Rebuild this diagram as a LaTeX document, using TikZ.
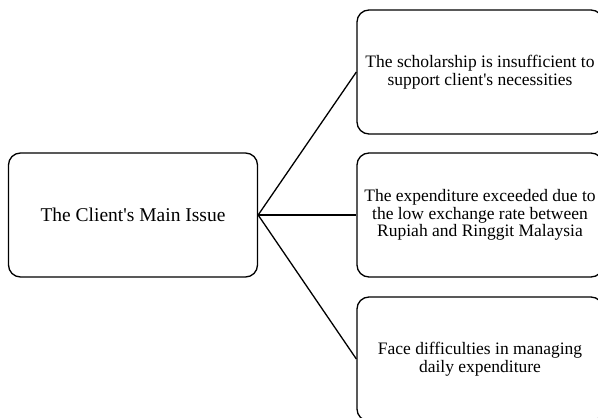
\documentclass[tikz,border=0pt]{standalone}
\usepackage{fontspec}
\setmainfont{Liberation Serif}[Ligatures=TeXOff]

\begin{document}
\begin{tikzpicture}[x=1pt, y=-1pt,
  box/.style={draw, line width=1.3pt, rounded corners=12pt, align=center,
    minimum height=124pt, inner sep=0pt},
  big/.style={font=\fontsize{19.5}{22}\selectfont},
  small/.style={font=\fontsize{17.5}{17.5}\selectfont}]
\useasboundingbox (0,0) rectangle (598,418);
\node[box, big, minimum width=249pt] (main) at (133,215) {The Client's Main Issue};
\node[box, small, minimum width=246pt] (sch) at (480,72) {The scholarship is insufficient to\\support client's necessities};
\node[box, small, minimum width=246pt] (exch) at (480,215) {The expenditure exceeded due to\\the low exchange rate between\\Rupiah and Ringgit Malaysia};
\node[box, small, minimum width=246pt] (daily) at (480,359) {Face difficulties in managing\\daily expenditure};
\draw[line width=1.3pt] (main.east)--(sch.west);
\draw[line width=1.3pt] (main.east)--(exch.west);
\draw[line width=1.3pt] (main.east)--(daily.west);
\end{tikzpicture}
\end{document}
